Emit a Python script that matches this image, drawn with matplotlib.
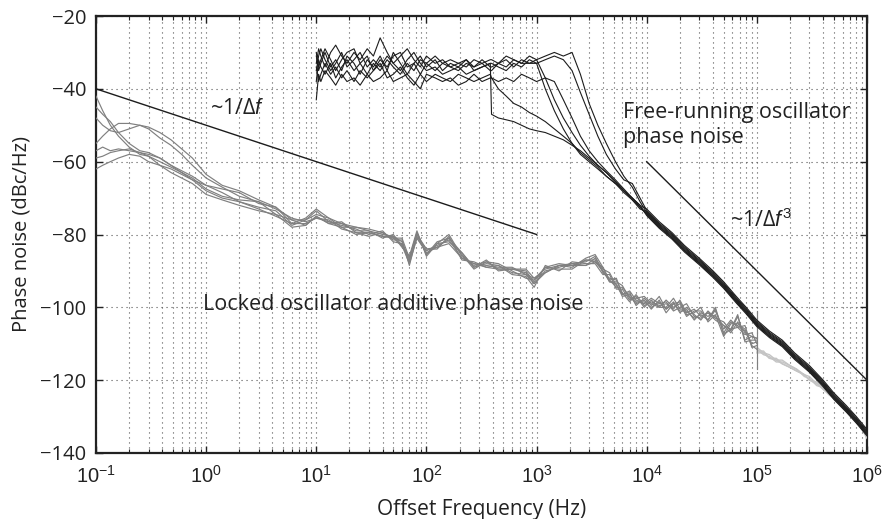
import numpy as np
import matplotlib
matplotlib.use("Agg")
import matplotlib.pyplot as plt
from matplotlib.ticker import LogLocator, FixedLocator, FuncFormatter

TEXT_FONT = ['Open Sans', 'Liberation Sans', 'DejaVu Sans']
plt.rcParams['font.family'] = TEXT_FONT
plt.rcParams['mathtext.fontset'] = 'custom'
plt.rcParams['mathtext.rm'] = 'Liberation Sans'
plt.rcParams['mathtext.it'] = 'Liberation Sans:italic'
plt.rcParams['mathtext.bf'] = 'Liberation Sans:bold'

# ---------------- free-running oscillator (black traces) ----------------
F_FREE_HEAD = [10, 10.5, 11, 12, 13.5, 15, 17, 19, 22, 25, 29, 33, 38, 44, 50, 58,
               67, 77, 88, 100, 120, 140, 165, 195, 230, 270, 320, 380, 390, 450,
               530, 620, 730, 860, 1000, 1200, 1450, 1750, 2100, 2500, 3000, 3600,
               4300, 5200, 6200, 7400, 8700]
FREE_T1 = [-33, -29, -31, -34, -30, -28, -31, -33, -30, -32, -29, -31, -26, -30, -33, -31,
           -29, -32, -34, -31, -33, -32, -34, -33, -32, -34, -33, -32, -32, -33,
           -31, -32, -33, -31, -32, -31, -30, -31, -30, -36, -44, -50, -55, -60, -64, -67, -71]
FREE_T2 = [-30, -35, -33, -30, -34, -32, -35, -31, -33, -36, -32, -34, -31, -35, -30, -33,
           -36, -33, -31, -34, -32, -35, -33, -34, -32, -35, -34, -33, -33, -34,
           -35, -33, -34, -32, -33, -32, -31, -32, -35, -41, -47, -53, -58, -62, -65, -66, -70]
FREE_T3 = [-38, -32, -34, -36, -33, -37, -34, -32, -35, -33, -36, -33, -35, -32, -34, -36,
           -33, -35, -32, -33, -35, -33, -34, -35, -33, -34, -32, -34, -34, -33,
           -34, -32, -33, -33, -32, -37, -43, -48, -52, -55.5, -58.5, -61, -63, -65.5, -68, -70, -72.5]
FREE_T4 = [-43, -36, -38, -35, -37, -39, -36, -38, -37, -39, -36, -38, -37, -35, -38, -37,
           -36, -38, -40, -36, -37, -38, -37, -39, -38, -36, -38, -37, -37, -38,
           -37, -38, -36, -37, -38, -37, -38, -43, -48, -53, -57, -60, -62.5, -65, -67.5, -70, -72]
FREE_T5 = [-35, -31, -29, -32, -35, -33, -30, -34, -32, -30, -34, -32, -34, -31, -33, -35,
           -32, -30, -33, -35, -34, -36, -35, -34, -36, -35, -34, -33, -47, -48,
           -48.5, -49, -50, -51, -51.5, -52, -53, -54, -55.5, -57, -59, -61, -63, -65.5, -68, -70, -72]
FREE_T6 = [-34, -38, -36, -33, -36, -34, -37, -35, -38, -35, -37, -35, -33, -37, -36, -34,
           -37, -39, -36, -38, -36, -37, -38, -36, -37, -38, -37, -36, -37, -40,
           -42, -44, -45, -46.5, -47.5, -49, -51, -53, -55, -57.5, -59.5, -61.5, -64, -66, -68.5, -70.5, -73]
FREE_T7 = [-31, -34, -32, -29, -32, -35, -32, -30, -29, -33, -31, -35, -32, -34, -31, -30,
           -34, -33, -36, -33, -31, -33, -32, -33, -34, -32, -33, -35, -35, -33,
           -32, -34, -32, -33, -33, -40, -46, -51, -55, -58, -60, -62, -64, -66, -68, -70.5, -72.5]
FREE_HEADS = [FREE_T1, FREE_T2, FREE_T3, FREE_T4, FREE_T5, FREE_T6, FREE_T7]

# common high-offset roll-off of the free-running traces
F_FREE_TAIL = [1e4, 1.3e4, 1.7e4, 2.2e4, 3e4, 4e4, 5e4, 6.5e4, 8e4, 1e5, 1.3e5, 1.7e5,
               2.2e5, 3e5, 4e5, 5e5, 6.5e5, 8e5, 1e6]
FREE_TAIL = [-74, -77.5, -80.5, -84, -87.5, -91, -94, -98, -101, -104.5, -107.5, -110,
             -113.5, -117, -121, -124.5, -128, -131, -134.5]
FREE_TAIL_SPREAD = [0.0, 0.6, -0.5, 1.0, -0.8, 0.3, -0.3]

# ---------------- locked oscillator additive noise (grey traces) ----------------
F_LOCK = [0.1, 0.115, 0.135, 0.16, 0.2, 0.25, 0.3, 0.38, 0.48, 0.6, 0.75, 1.0,
          1.4, 2, 3, 4.3, 6, 8, 10, 13, 17, 23, 30, 40, 50, 60, 70, 82, 100, 125, 160,
          210, 270, 350, 450, 600, 800, 950, 1200, 1600, 2100, 2800, 3400,
          4000, 4600, 5300, 6000, 7000, 8000, 9500, 11000, 13000, 15000, 17500, 20000,
          23000, 27000, 31000, 36000, 42000, 50000, 58000, 67000, 78000, 90000, 100000]
LOCK_G1 = [-42, -46, -50, -53, -56, -58, -58.5, -61, -62, -63.5, -65, -66.5,
           -67.5, -68.5, -71.5, -72.5, -77, -75.5, -73, -75.5, -78, -78, -79, -81, -80, -83,
           -86, -79, -86, -82.5, -82, -85, -89, -87, -90, -89.5, -89.5, -92, -90.5, -88.5,
           -89, -86.5, -85.5,
           -89, -92.5, -92, -96.5, -96, -99.5, -97.5, -99.5, -97, -100.5, -98.5, -101.5,
           -100, -102, -103.5, -101, -103, -104, -106.5, -102.5, -109, -108, -108.5]
LOCK_G2 = [-45, -47, -49, -52, -55, -57, -57.5, -59, -61, -63, -64.5, -67.5,
           -69.5, -70.5, -71, -74.5, -76, -77.5, -75, -77, -76.5, -79.5, -80.5, -79.5, -81.5,
           -81.5, -88.5, -80.5, -84, -84, -80.5, -87, -87.5, -89, -88.5, -91, -91.5, -94.5,
           -88.5, -90, -87.5, -88, -88,
           -91, -91, -95, -95, -98, -97, -100, -98, -100, -98, -100, -99, -102.5, -101,
           -101, -103.5, -100.5, -107, -104, -105, -106.5, -110.5, -111.5]
LOCK_G3 = [-48, -50, -51.5, -52, -51, -50, -50.5, -52, -54, -56.5, -59, -63.5,
           -66.5, -68, -70.5, -72.5, -76, -76, -74.5, -75.5, -77, -78, -78.5, -79.5, -81, -81,
           -86.5, -79.5, -85.5, -82, -81, -85.5, -89.5, -87.5, -88, -90, -92, -92.5, -89, -88,
           -88.5, -87, -87,
           -90, -93, -93, -94, -97.5, -97.5, -97, -99, -100, -100, -97.5, -100.5, -100.5,
           -103.5, -101.5, -102.5, -101, -106, -103.5, -105.5, -107.5, -107, -110]
LOCK_G4 = [-55, -53, -51, -49.5, -49.5, -50, -51, -53.5, -55.5, -58, -61, -64.5,
           -67, -69.5, -71, -73, -75.5, -76.5, -75.5, -76, -78.5, -79.5, -79.5, -80.5, -80.5,
           -83.5, -86, -81, -84.5, -83, -81.5, -86.5, -88, -88.5, -89, -89, -91, -93.5, -90,
           -89, -88, -88.5, -86.5,
           -89.5, -90.5, -94, -96.5, -95.5, -98, -99, -97.5, -99, -98.5, -101, -100, -99,
           -102.5, -103, -101.5, -103.5, -105, -106, -102, -109.5, -109, -109]
LOCK_G5 = [-57, -56, -57, -56.5, -57, -57.5, -58, -59, -61, -62.5, -64, -66.5,
           -68.5, -71, -72.5, -73.5, -77.5, -76, -73.5, -76.5, -77.5, -78.5, -80, -79, -82,
           -82.5, -87.5, -79.5, -85.5, -82.5, -80, -86, -88.5, -87.5, -89.5, -89.5, -90, -93,
           -89, -89.5, -89.5, -87, -87.5,
           -90, -92.5, -94.5, -94.5, -97, -99, -98, -100.5, -98, -101.5, -99, -98.5, -102,
           -101.5, -100, -104, -102, -108, -104.5, -104.5, -106, -110, -109.5]
LOCK_G6 = [-59, -58.5, -57.5, -57, -56.5, -57.5, -58.5, -60, -61.5, -63, -65, -68,
           -70, -71, -73, -75, -77, -77, -75.5, -76.5, -77, -79, -79, -80, -80.5, -82, -87,
           -80, -84, -83.5, -81, -85, -89, -88, -88.5, -90.5, -91, -92, -89.5, -88.5, -88,
           -87.5, -86,
           -90.5, -92, -92.5, -96, -98.5, -96.5, -99.5, -98.5, -99.5, -99, -100.5, -98,
           -101.5, -100.5, -102.5, -101.5, -102.5, -105, -107, -104, -107, -108, -108.5]
LOCK_G7 = [-62, -61, -60, -59, -58, -58.5, -60, -61, -63, -64.5, -66, -69,
           -70.5, -72, -73.5, -74.5, -78, -77.5, -75, -77, -78, -80, -79.5, -80.5, -81, -83,
           -88, -81, -85, -83.5, -82.5, -86.5, -88, -89, -89.5, -89.5, -90.5, -93.5, -90.5,
           -88.5, -88.5, -88.5, -87.5,
           -89, -93, -93.5, -97, -96.5, -98.5, -98.5, -100, -98.5, -100.5, -99, -101, -101,
           -103, -102, -103.5, -100, -107.5, -106, -105.5, -105, -111, -110.5]
LOCK_TRACES = [LOCK_G1, LOCK_G2, LOCK_G3, LOCK_G4, LOCK_G5, LOCK_G6, LOCK_G7]
LOCK_EDGE_F = [1e5, 1e5]
LOCK_EDGE = [-101, -117]

# locked traces above 100 kHz (light grey)
F_HI = [1e5, 1.15e5, 1.3e5, 1.5e5, 1.7e5, 2e5, 2.3e5, 2.7e5, 3e5, 3.5e5, 4e5, 4.5e5,
        5e5, 6e5, 7e5, 8e5, 9e5, 1e6]
HI_L1 = [-111, -112.5, -113, -114.5, -114.5, -116, -117, -118.5, -119, -121, -122, -123.5,
         -124.5, -127, -129, -131, -133, -135]
HI_L2 = [-112, -112, -114, -114, -115.5, -116.5, -117.5, -118.5, -120, -120.5, -122.5, -124,
         -125, -126.5, -129.5, -131.5, -132.5, -135.5]
HI_L3 = [-111.5, -113, -113.5, -115, -115, -116, -117, -119, -119.5, -121.5, -122, -123.5,
         -125, -127.5, -129, -131, -133.5, -136]
HI_L4 = [-112.5, -112.5, -114, -114.5, -115.5, -116.5, -117.5, -118.5, -120, -121, -122.5,
         -123.5, -124.5, -127, -129.5, -131.5, -133, -134.5]
HI_TRACES = [HI_L1, HI_L2, HI_L3, HI_L4]

# slope guides
GUIDE_1_F = [0.1, 1000]
GUIDE_1_DB = [-40, -80]
GUIDE_3_F = [1e4, 1e6]
GUIDE_3_DB = [-60, -120]

X_TICKS = [1e-1, 1e0, 1e1, 1e2, 1e3, 1e4, 1e5, 1e6]
Y_TICKS = [-140, -120, -100, -80, -60, -40, -20]

# ---------------- figure ----------------
W, H = 891, 519
fig = plt.figure(figsize=(W / 100, H / 100), dpi=100)
ax = fig.add_axes([96 / W, (H - 453) / H, (867 - 96) / W, (453 - 16) / H])

BLACK = '#1c1c1c'
GREY = '#808080'
LIGHT = '#c4c4c4'
INK = '#222222'

for hi in HI_TRACES:
    ax.plot(F_HI, hi, color=LIGHT, lw=1.0, zorder=3)

for g in LOCK_TRACES:
    ax.plot(F_LOCK, g, color=GREY, lw=0.85, zorder=4)
ax.plot(LOCK_EDGE_F, LOCK_EDGE, color=GREY, lw=0.85, zorder=4)

for head, off in zip(FREE_HEADS, FREE_TAIL_SPREAD):
    f = F_FREE_HEAD + F_FREE_TAIL
    v = head + [t + off for t in FREE_TAIL]
    ax.plot(f, v, color=BLACK, lw=0.8, zorder=5)

ax.plot(GUIDE_1_F, GUIDE_1_DB, color=BLACK, lw=1.0, zorder=6)
ax.plot(GUIDE_3_F, GUIDE_3_DB, color=BLACK, lw=1.0, zorder=6)

ax.set_xscale('log')
ax.set_xlim(0.1, 1e6)
ax.set_ylim(-140, -20)
ax.yaxis.set_major_locator(FixedLocator(Y_TICKS))
ax.yaxis.set_major_formatter(FuncFormatter(lambda v, p: f"{int(v)}".replace('-', '\u2212')))
ax.xaxis.set_major_locator(FixedLocator(X_TICKS))
ax.xaxis.set_major_formatter(FuncFormatter(
    lambda v, p: '$10^{%s}$' % f"{int(round(np.log10(v)))}".replace('-', '\u2212')))
ax.xaxis.set_minor_locator(LogLocator(base=10, subs=np.arange(2, 10), numticks=100))

ax.tick_params(which='both', direction='in', top=True, right=True, colors=INK)
ax.tick_params(which='major', length=5, width=1.0)
ax.tick_params(which='minor', length=3, width=0.8)
ax.tick_params(axis='x', which='major', pad=9, labelsize=14.5)
ax.tick_params(axis='y', which='major', pad=7, labelsize=14.5)

grid_kw = dict(linestyle=(0, (1, 3.5)), color='#555555', lw=0.8)
ax.grid(which='major', axis='both', **grid_kw)
ax.grid(which='minor', axis='x', **grid_kw)
ax.set_axisbelow(True)

for s in ax.spines.values():
    s.set_linewidth(1.6)
    s.set_color(INK)

ax.set_xlabel('Offset Frequency (Hz)', fontsize=15, labelpad=8, color=INK)
ax.set_ylabel('Phase noise (dBc/Hz)', fontsize=14.5, labelpad=6, color=INK)

txt_kw = dict(fontsize=15.5, color=INK, zorder=7)
ax.text(1.08, -45.3, '~1/\u0394$\\mathit{f}$', va='center', ha='left', **txt_kw)
ax.text(6.1e3, -46.4, 'Free-running oscillator', va='center', ha='left', **txt_kw)
ax.text(6.1e3, -53.3, 'phase noise', va='center', ha='left', **txt_kw)
ax.text(5.7e4, -76.3, '~1/\u0394$\\mathit{f}^3$', va='center', ha='left', **txt_kw)
ax.text(0.936, -99.3, 'Locked oscillator additive phase noise', va='center', ha='left',
        **txt_kw)

fig.savefig('out.png', dpi=100)
